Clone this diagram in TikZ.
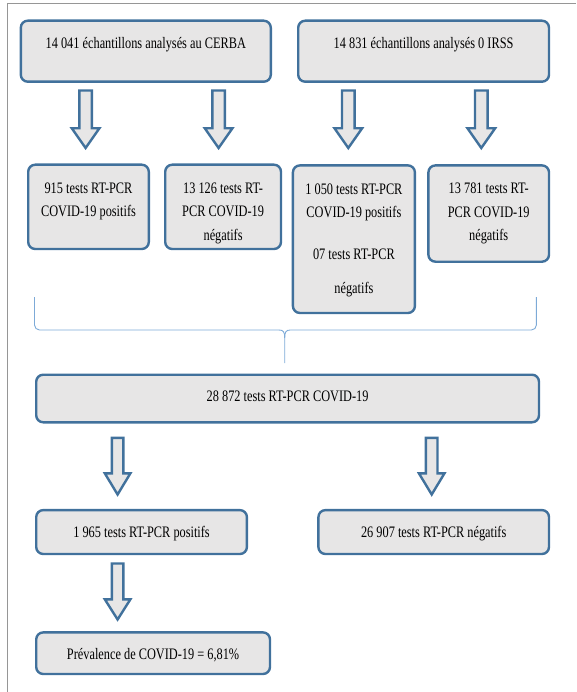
\documentclass[tikz,border=0pt]{standalone}
\usepackage{fontspec}
\setmainfont{Liberation Serif}[FakeStretch=0.77]

\definecolor{bleu}{RGB}{65,113,156}
\definecolor{grisclair}{RGB}{231,230,230}
\definecolor{bleuclair}{RGB}{125,170,215}
\definecolor{cadre}{RGB}{150,150,150}

% Espace entre les mots, plus serre
\newcommand{\espacement}{\spaceskip=3.1pt\relax}

% Grosse fleche vers le bas : x, haut, debut de la tete, pointe
\newcommand{\grossefleche}[4]{%
  \draw[fleche] (#1-\tige,#2) -- (#1+\tige,#2) -- (#1+\tige,#3) -- (#1+\tete,#3)
    -- (#1,#4) -- (#1-\tete,#3) -- (#1-\tige,#3) -- cycle;}

\begin{document}
\begin{tikzpicture}[x=1pt,y=-1pt,
    boite/.style={draw=bleu, line width=2.4pt, fill=grisclair, rounded corners=7pt,
      inner sep=0pt, align=center, anchor=north west,
      font=\fontsize{16pt}{23.5pt}\selectfont, execute at begin node=\espacement},
    fleche/.style={draw=bleu, line width=2.4pt, fill=grisclair, line join=miter},
    accolade/.style={draw=bleuclair, line width=0.9pt}]
    \useasboundingbox (0,0) rectangle (576,692);

    % Cadre
    \draw[cadre, line width=1.5pt] (7.5,692) -- (7.5,3.5) -- (576,3.5);

    % Les deux laboratoires
    \node[boite, text width=250pt, text height=28pt, text depth=33pt] (cerba) at (19.6,19.5)
        {14 041 échantillons analysés au CERBA};
    \node[boite, text width=250.8pt, text height=28pt, text depth=33pt] (irss) at (297,19.5)
        {14 831 échantillons analysés 0 IRSS};

    % Fleches vers les resultats
    \def\tige{6.3}\def\tete{13.8}
    \grossefleche{85.6}{90.5}{128.3}{148}
    \grossefleche{218.6}{90.5}{128.3}{148}
    \grossefleche{348.3}{90.5}{128.3}{148}
    \grossefleche{481.3}{90.5}{128.3}{148}

    % Resultats par laboratoire
    \node[boite, text width=120.6pt, text height=28.8pt, text depth=55.5pt] (pos1) at (27,163.5)
        {915 tests RT-PCR\\COVID-19 positifs};
    \node[boite, text width=115.8pt, text height=28.8pt, text depth=55.5pt] (neg1) at (164,163.5)
        {13 126 tests RT-\\PCR COVID-19\\négatifs};
    \node[boite, text width=122pt, text height=29.1pt, text depth=118.5pt] (pos2) at (291.7,164.2)
        {1 050 tests RT-PCR\\COVID-19 positifs\\[17.8pt]07 tests RT-PCR\\[10.5pt]négatifs};
    \node[boite, text width=120.6pt, text height=28.3pt, text depth=68pt] (neg2) at (427.2,164.2)
        {13 781 tests RT-\\PCR COVID-19\\négatifs};

    % Accolade de regroupement
    \coordinate (gauche) at (34.5,297);
    \coordinate (droite) at (536.4,297);
    \coordinate (pointe) at (284.7,363);
    \draw[accolade, rounded corners=5pt] (gauche) -- (34.5,330) -- (279,330);
    \draw[accolade, rounded corners=5pt] (droite) -- (536.4,330) -- (290.4,330);
    \draw[accolade] (279,330) .. controls (283.5,330) and (284.7,332) .. (284.7,338) -- (pointe);
    \draw[accolade] (290.4,330) .. controls (285.9,330) and (284.7,332) .. (284.7,338);

    % Total
    \node[boite, text width=502.8pt, text height=26.5pt, text depth=21.1pt] (total) at (35,373.5)
        {28 872 tests RT-PCR COVID-19};

    \def\tige{5.8}\def\tete{12.8}
    \grossefleche{117.6}{437.9}{473.3}{494.5}
    \grossefleche{431.7}{437.9}{473.3}{494.5}

    \node[boite, text width=210.7pt, text height=27.1pt, text depth=16.8pt] (positifs) at (35,508.9)
        {1 965 tests RT-PCR positifs};
    \node[boite, text width=230.6pt, text height=27.1pt, text depth=16.8pt] (negatifs) at (317.2,508.9)
        {26 907 tests RT-PCR négatifs};

    \grossefleche{117.6}{563.5}{599.3}{619.5}

    % Prevalence
    \node[boite, text width=233.8pt, text height=27.1pt, text depth=14.5pt] (prevalence) at (35,631.2)
        {Prévalence de COVID-19 = 6,81\%};
\end{tikzpicture}
\end{document}
